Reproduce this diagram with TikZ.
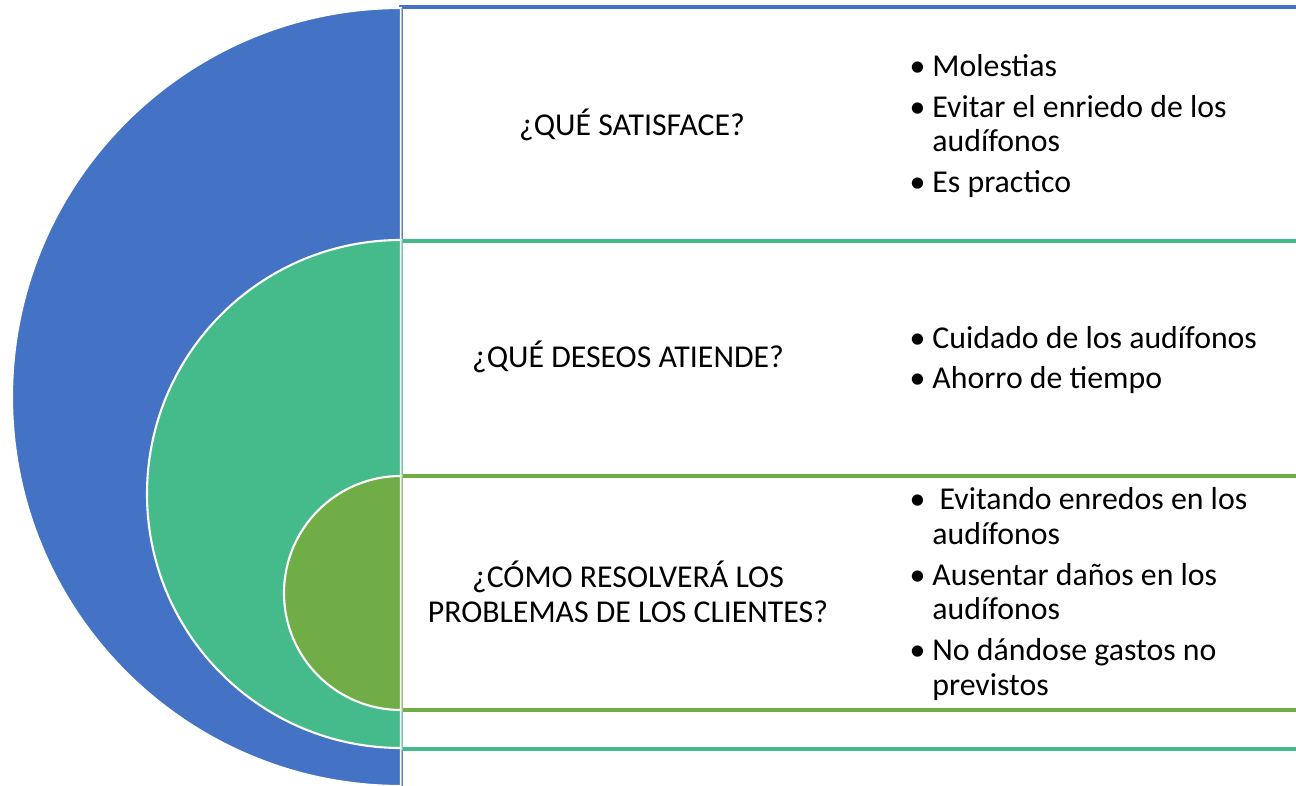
\documentclass[tikz,border=0pt]{standalone}
\usepackage{fontspec}
\setmainfont{Carlito}
\definecolor{targetblue}{HTML}{4472C4}
\definecolor{targetgreen}{HTML}{45BB8C}
\definecolor{targetolive}{HTML}{70AD47}
\newcommand{\itm}{\makebox[12pt][l]{\hspace{-1pt}•}}
\newcommand{\cnt}{\hspace*{12pt}}
\begin{document}
\begin{tikzpicture}
[x=0.02cm,y=0.02cm,
  halfdecorate/.style={draw=white,line width=1.2pt},
  framedecorate/.style={line width=1.9pt},
  textdecorate/.style={inner sep=0pt,font=\fontsize{18.1}{19.8}\selectfont}]
\useasboundingbox (0,0) rectangle (1296,-786);
\clip (0,0) rectangle (1296,-786);
%% frames on the right
\foreach \col/\top/\bot in {targetblue/7/800, targetgreen/241/749, targetolive/476/710} {
  \draw[framedecorate,\col] (1310,-\top) -- (401,-\top) -- (401,-\bot) -- (1310,-\bot);
}
%% nested half discs
\foreach \col/\cy/\r in {targetblue/397/389, targetgreen/494/254, targetolive/593/117} {
  \path[fill=\col,halfdecorate] (401,-\cy+\r) arc[start angle=90,end angle=270,radius=\r] -- cycle;
  \draw[\col!45,line width=1pt] (401.5,-\cy+\r) -- (401.5,-\cy-\r);
}
%% questions
\node[textdecorate,align=center] (satisface) at (632,-125) {¿QUÉ SATISFACE?};
\node[textdecorate,align=center] (deseos) at (628,-357) {¿QUÉ DESEOS ATIENDE?};
\node[textdecorate,align=center] (resolvera) at (628,-592) {¿CÓMO RESOLVERÁ LOS\\PROBLEMAS DE LOS CLIENTES?};
%% answers
\node[textdecorate,align=left,anchor=west] (satlist) at (911,-126)
  {\itm Molestias\\[3.4pt]\itm Evitar el enriedo de los\\\cnt audífonos\\[3.4pt]\itm Es practico};
\node[textdecorate,align=left,anchor=west] (deslist) at (911,-360)
  {\itm Cuidado de los audífonos\\[3.4pt]\itm Ahorro de tiempo};
\node[textdecorate,align=left,anchor=west] (reslist) at (911,-594)
  {\itm\ Evitando enredos en los\\\cnt audífonos\\[3.4pt]\itm Ausentar daños en los\\\cnt audífonos\\[3.4pt]\itm No dándose gastos no\\\cnt previstos};
\end{tikzpicture}
\end{document}
